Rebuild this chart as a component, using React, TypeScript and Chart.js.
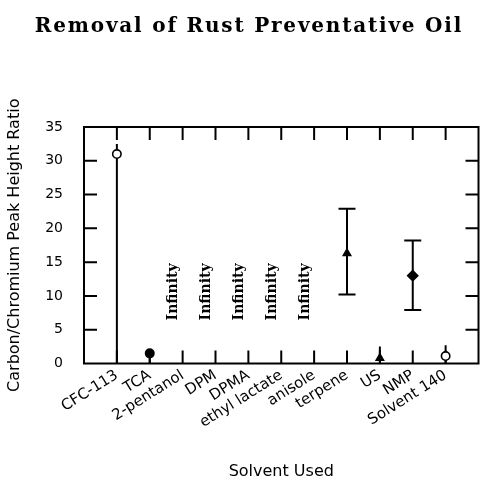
import React, { useEffect, useRef } from 'react';
import { Chart, registerables } from 'chart.js';

Chart.register(...registerables);

const titleText = 'Removal of Rust Preventative Oil';
const xTitle = 'Solvent Used';
const yTitle = 'Carbon/Chromium Peak Height Ratio';

const categories = [
  'CFC-113', 'TCA', '2-pentanol', 'DPM', 'DPMA', 'ethyl lactate',
  'anisole', 'terpene', 'US', 'NMP', 'Solvent 140',
];
const ratio = [31, 1.5, null, null, null, null, null, 16.3, 0.8, 13.0, 1.1];
const errLow = [0, 0, null, null, null, null, null, 10.2, 0, 7.9, 0];
const errHigh = [32.5, 1.5, null, null, null, null, null, 22.9, 2.5, 18.2, 2.7];

const infinitySolvents = ['2-pentanol', 'DPM', 'DPMA', 'ethyl lactate', 'anisole'];
const infinityText = 'Infinity';
const infinityLevel = 10.6;

const yMin = 0;
const yMax = 35;
const yStep = 5;

// marker style per solvent: [pointStyle, filled]
const markerStyle: Record<string, [string, boolean]> = {
  'CFC-113': ['circle', false],
  TCA: ['circle', true],
  terpene: ['triangle', true],
  US: ['triangle', true],
  NMP: ['rectRot', true],
  'Solvent 140': ['circle', false],
};
const cappedBars = ['terpene', 'NMP'];

const FONT_SANS = '"DejaVu Sans", sans-serif';

// canvas is slightly wider than the 481px window; the overflow is clipped
const CANVAS_W = 489;
const CANVAS_H = 481;

export default function App() {
  const ref = useRef<HTMLCanvasElement | null>(null);

  useEffect(() => {
    const canvas = ref.current;
    if (!canvas) return;

    const pos = (i: number) => i + 1;

    const markerIdx = categories.map((c, i) => i).filter((i) => ratio[i] !== null);

    const markerDataset: any = {
      type: 'scatter',
      label: 'ratio',
      data: markerIdx.map((i) => ({ x: pos(i), y: ratio[i] })),
      pointStyle: markerIdx.map((i) => markerStyle[categories[i]][0]),
      backgroundColor: markerIdx.map((i) => (markerStyle[categories[i]][1] ? '#000' : '#fff')),
      borderColor: '#000',
      borderWidth: 1.6,
      pointRadius: markerIdx.map((i) => (markerStyle[categories[i]][0] === 'rectRot' ? 5 : 4.2)),
      order: 0,
    };

    const errDatasets: any[] = categories
      .map((c, i) => i)
      .filter((i) => errLow[i] !== null && errHigh[i] !== null)
      .map((i) => ({
        type: 'line',
        label: 'err-' + categories[i],
        data: [
          { x: pos(i), y: errLow[i] },
          { x: pos(i), y: errHigh[i] },
        ],
        showLine: true,
        borderColor: '#000',
        borderWidth: 2,
        pointStyle: 'line',
        pointRadius: cappedBars.includes(categories[i]) ? 8.5 : 0,
        pointBorderWidth: 2,
        pointBorderColor: '#000',
        order: 1,
      }));

    const framePlugin = {
      id: 'frame',
      beforeDatasetsDraw(chart: any) {
        const { ctx, chartArea: a, scales } = chart;
        const xs = scales.x;
        const ys = scales.y;
        const tl = 13;
        ctx.save();
        ctx.strokeStyle = '#000';
        ctx.lineWidth = 2;
        ctx.strokeRect(a.left, a.top, a.right - a.left, a.bottom - a.top);
        ctx.beginPath();
        for (let v = yMin + yStep; v < yMax; v += yStep) {
          const y = ys.getPixelForValue(v);
          ctx.moveTo(a.left, y);
          ctx.lineTo(a.left + tl, y);
          ctx.moveTo(a.right, y);
          ctx.lineTo(a.right - tl, y);
        }
        categories.forEach((c, i) => {
          const x = xs.getPixelForValue(pos(i));
          ctx.moveTo(x, a.top);
          ctx.lineTo(x, a.top + tl);
          ctx.moveTo(x, a.bottom);
          ctx.lineTo(x, a.bottom - tl);
        });
        ctx.stroke();

        // "Infinity" annotations
        ctx.fillStyle = '#000';
        ctx.font = 'bold 14px "DejaVu Serif", serif';
        ctx.textAlign = 'center';
        ctx.textBaseline = 'middle';
        infinitySolvents.forEach((s) => {
          const i = categories.indexOf(s);
          const x = xs.getPixelForValue(pos(i) - 0.27);
          const y = ys.getPixelForValue(infinityLevel);
          ctx.save();
          ctx.translate(x, y);
          ctx.rotate(-Math.PI / 2);
          ctx.fillText(infinityText, 0, 0);
          ctx.restore();
        });
        ctx.restore();
      },
      afterDraw(chart: any) {
        const { ctx } = chart;
        ctx.save();
        ctx.fillStyle = '#000';
        ctx.font = 'bold 20px "DejaVu Serif", serif';
        (ctx as any).letterSpacing = '1.8px';
        ctx.textAlign = 'center';
        ctx.textBaseline = 'middle';
        ctx.fillText(titleText, 249, 27);
        ctx.restore();
      },
    };

    const chart = new Chart(canvas, {
      type: 'scatter',
      data: { datasets: [markerDataset, ...errDatasets] },
      options: {
        animation: false,
        responsive: false,
        devicePixelRatio: 1,
        layout: { padding: { top: 127, right: 3, left: 0, bottom: 0 } },
        plugins: {
          legend: { display: false },
          tooltip: { enabled: false },
          title: { display: false },
        },
        scales: {
          x: {
            type: 'linear',
            min: 0,
            max: categories.length + 1,
            grid: { display: false, drawTicks: false },
            border: { display: false },
            afterBuildTicks: (scale: any) => {
              scale.ticks = categories.map((c, i) => ({ value: pos(i) }));
            },
            afterFit: (scale: any) => {
              scale.height = 117.5;
            },
            ticks: {
              autoSkip: false,
              minRotation: 32,
              maxRotation: 32,
              padding: 3,
              color: '#000',
              font: { family: FONT_SANS, size: 15 },
              callback: (v: any) => categories[Math.round(v) - 1] ?? '',
            },
            title: {
              display: true,
              text: xTitle,
              color: '#000',
              font: { family: FONT_SANS, size: 16 },
              padding: { top: 0, bottom: 0 },
            },
          },
          y: {
            type: 'linear',
            min: yMin,
            max: yMax,
            grid: { display: false, drawTicks: false },
            border: { display: false },
            afterFit: (scale: any) => {
              scale.width = 84;
            },
            ticks: {
              stepSize: yStep,
              padding: 21,
              color: '#000',
              font: { family: FONT_SANS, size: 14 },
            },
            title: {
              display: true,
              text: yTitle,
              color: '#000',
              font: { family: FONT_SANS, size: 16 },
              padding: { top: 5, bottom: 0 },
            },
          },
        },
      },
      plugins: [framePlugin],
    } as any);

    return () => chart.destroy();
  }, []);

  return (
    <div style={{ position: 'absolute', left: 0, top: 0, width: 481, height: 481, background: '#fff', overflow: 'hidden' }}>
      <canvas
        ref={ref}
        width={CANVAS_W}
        height={CANVAS_H}
        style={{ width: CANVAS_W, height: CANVAS_H, display: 'block' }}
      />
    </div>
  );
}
